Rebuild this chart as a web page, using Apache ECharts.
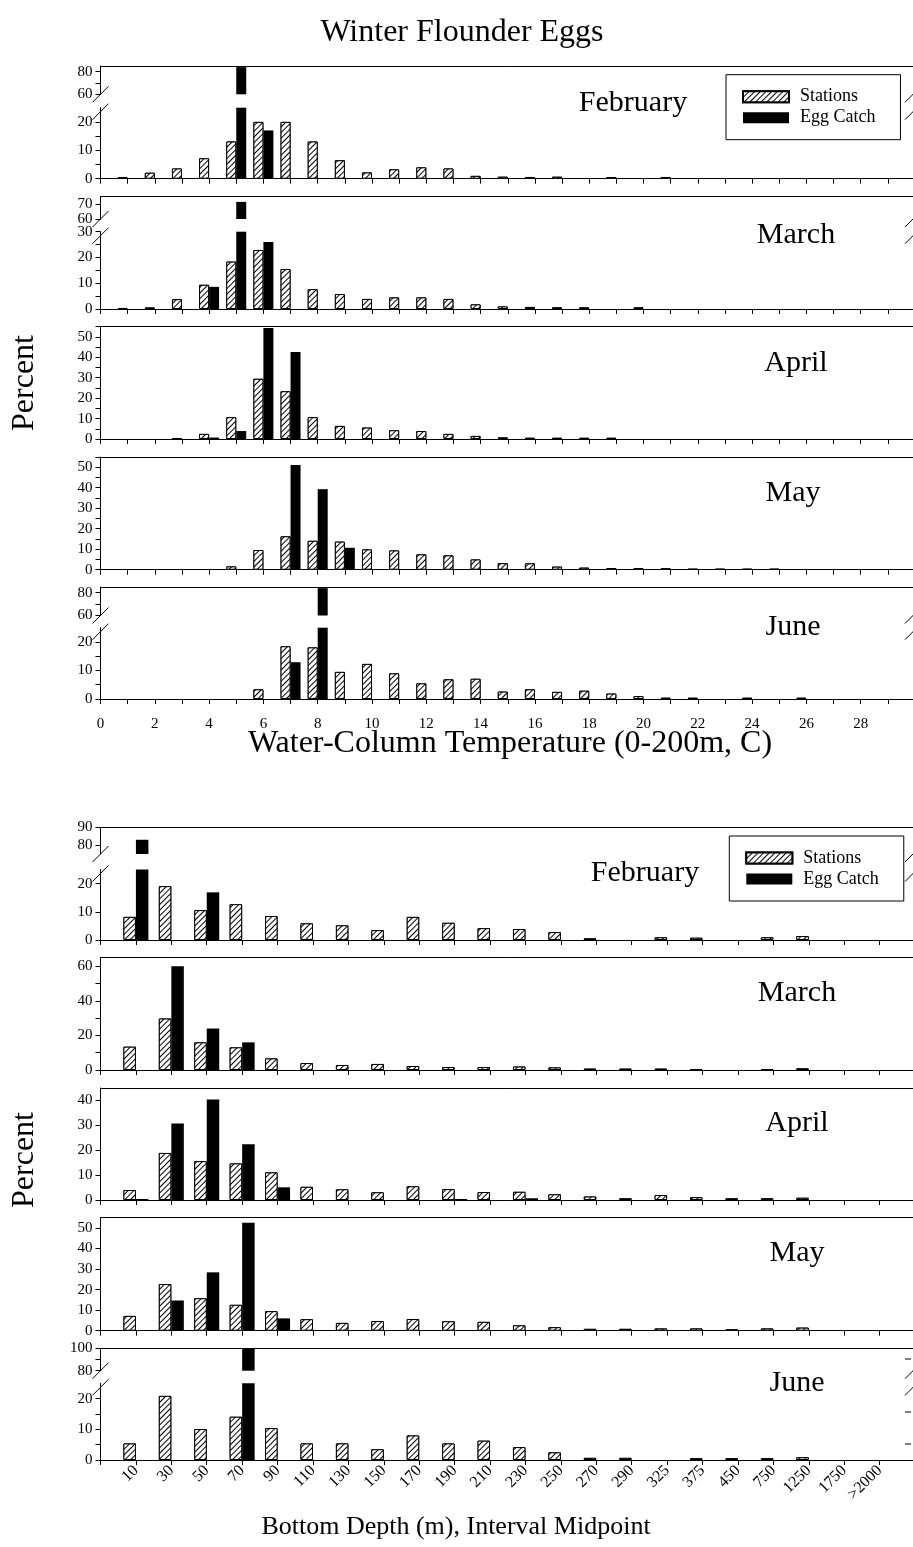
<!DOCTYPE html>
<html><head><meta charset="utf-8">
<script src="https://cdn.jsdelivr.net/npm/echarts@6/dist/echarts.min.js"></script>
<style>html,body{margin:0;padding:0;background:#fff}#c{width:913px;height:1547px}</style>
</head><body><div id="c"></div>
<script>
// ---------------- DATA ----------------
// Temperature bins (bars sit at 1..29 on the temperature axis)
const tempBins = [1,2,3,4,5,6,7,8,9,10,11,12,13,14,15,16,17,18,19,20,21,22,23,24,25,26,27,28,29];
const tempTickLabels = ['0','2','4','6','8','10','12','14','16','18','20','22','24','26','28'];

const tempStationsFeb = [0.5,2.1,3.6,7.2,13.1,20.0,20.0,13.1,6.5,2.2,3.3,4.0,3.6,1.0,0.7,0.6,0.7,0,0.6,0,0.6,0,0,0,0,0,0,0,0];
const tempEggsFeb     = [0,0,0,0,84,17,0,0,0,0,0,0,0,0,0,0,0,0,0,0,0,0,0,0,0,0,0,0,0];
const tempStationsMar = [0.4,0.6,3.8,9.4,18.4,22.9,15.5,7.7,5.8,3.9,4.5,4.5,3.9,1.8,1.0,0.8,0.65,0.65,0,0.65,0,0,0,0,0,0,0,0,0];
const tempEggsMar     = [0,0,0,8.6,71.5,26,0,0,0,0,0,0,0,0,0,0,0,0,0,0,0,0,0,0,0,0,0,0,0];
const tempStationsApr = [0,0,0.5,2.5,10.7,29.5,23.4,10.7,6.4,5.6,4.3,3.9,2.5,1.5,0.8,0.6,0.6,0.6,0.6,0,0,0,0,0,0,0,0,0,0];
const tempEggsApr     = [0,0,0,0.7,3.9,54.4,42.6,0,0,0,0,0,0,0,0,0,0,0,0,0,0,0,0,0,0,0,0,0,0];
const tempStationsMay = [0,0,0,0,1.6,9.6,16.3,14.1,13.7,9.9,9.4,7.5,7.0,5.0,3.2,3.1,1.5,1.0,0.8,0.8,0.7,0.4,0.4,0.4,0.4,0,0,0,0];
const tempEggsMay     = [0,0,0,0,0,0,51.1,39.3,10.7,0,0,0,0,0,0,0,0,0,0,0,0,0,0,0,0,0,0,0,0];
const tempStationsJun = [0,0,0,0,0,3.4,18.5,18.1,9.5,12.3,9.0,5.5,6.9,7.1,2.6,3.4,2.5,2.9,1.9,1.0,0.45,0.45,0,0.45,0,0.45,0,0,0];
const tempEggsJun     = [0,0,0,0,0,0,12.9,84,0,0,0,0,0,0,0,0,0,0,0,0,0,0,0,0,0,0,0,0,0];

// Depth categories (bars sit at 1..22 on the depth axis)
const depthCategories = ['10','30','50','70','90','110','130','150','170','190','210','230','250','270','290','325','375','450','750','1250','1750','>2000'];
const depthBins = [1,2,3,4,5,6,7,8,9,10,11,12,13,14,15,16,17,18,19,20,21,22];

const depthStationsFeb = [8.2,19.1,10.6,12.7,8.5,5.9,5.2,3.5,8.2,6.1,4.2,3.9,2.8,0.6,0,0.95,0.8,0,0.95,1.4,0,0];
const depthEggsFeb     = [83,0,16.9,0,0,0,0,0,0,0,0,0,0,0,0,0,0,0,0,0,0,0];
const depthStationsMar = [13.5,29.8,16.0,13.1,6.7,4.0,2.9,3.5,2.3,1.7,1.7,2.0,1.5,0.8,0.8,0.8,0.5,0,0.3,1.0,0,0];
const depthEggsMar     = [0,60,24.0,16.0,0,0,0,0,0,0,0,0,0,0,0,0,0,0,0,0,0,0];
const depthStationsApr = [4.0,18.9,15.6,14.7,11.1,5.3,4.3,3.1,5.5,4.4,3.2,3.3,2.3,1.4,0.7,2.0,1.1,0.7,0.7,0.9,0,0];
const depthEggsApr     = [0.4,30.7,40.4,22.4,5.1,0,0,0,0,0.4,0,0.7,0,0,0,0,0,0,0,0,0,0];
const depthStationsMay = [7.2,22.7,15.8,12.6,9.5,5.6,3.8,4.7,5.7,4.6,4.3,2.6,1.7,0.9,0.9,1.1,1.1,0.65,1.1,1.5,0,0];
const depthEggsMay     = [0,14.7,28.4,52.6,6.0,0,0,0,0,0,0,0,0,0,0,0,0,0,0,0,0,0];
const depthStationsJun = [5.4,20.9,10.1,14.1,10.4,5.4,5.4,3.5,8.0,5.4,6.3,4.2,2.5,0.7,0.7,0,0.6,0.6,0.6,0.9,0,0];
const depthEggsJun     = [0,0,0,100,0,0,0,0,0,0,0,0,0,0,0,0,0,0,0,0,0,0];

// ---------------- LAYOUT ----------------
const FONT = 'Liberation Serif';
const PLOT_LEFT = 100.5, PLOT_W = 814.5;
const MONTH_SIZE = 30;
function range(a, b, s) { const r = []; for (let v = a; v <= b + 1e-9; v += s) r.push(v); return r; }

const tempSet = {
  bins: tempBins, xMax: 30, barW: 10,
  xTicks: range(0, 29, 1),
  xLabelValues: tempTickLabels.map(Number),
  xFormatter: v => String(v),
  xLabelExtra: { margin: 18 },
  panels: [
    { name: 'February', st: tempStationsFeb, egg: tempEggsFeb, label: [633, 103], parts: [
      { top: 66, bottom: 94.3, min: 60, max: 85, ticks: [60,70,80], labels: [60,80] },
      { top: 107.7, bottom: 178.7, min: 0, max: 25, ticks: [0,5,10,15,20], labels: [0,10,20] } ] },
    { name: 'March', st: tempStationsMar, egg: tempEggsMar, label: [796, 235], parts: [
      { top: 196.7, bottom: 219, min: 60, max: 75, ticks: [60,70], labels: [60,70] },
      { top: 231.7, bottom: 309, min: 0, max: 30, ticks: range(0,30,5), labels: [0,10,20,30] } ] },
    { name: 'April', st: tempStationsApr, egg: tempEggsApr, label: [796, 363], parts: [
      { top: 326.7, bottom: 439, min: 0, max: 55, ticks: range(0,55,5), labels: range(0,50,10) } ] },
    { name: 'May', st: tempStationsMay, egg: tempEggsMay, label: [793, 493], parts: [
      { top: 457, bottom: 569.7, min: 0, max: 55, ticks: range(0,55,5), labels: range(0,50,10) } ] },
    { name: 'June', st: tempStationsJun, egg: tempEggsJun, label: [793, 627], parts: [
      { top: 587, bottom: 615.5, min: 60, max: 85, ticks: [60,70,80], labels: [60,80] },
      { top: 627.7, bottom: 699, min: 0, max: 25, ticks: [0,5,10,15,20], labels: [0,10,20] } ] }
  ],
  legend: { left: 726, top: 74.7 }
};

const depthSet = {
  bins: depthBins, xMax: 23, barW: 12.5,
  xTicks: range(0, 22, 1),
  xLabelValues: depthBins,
  xFormatter: v => depthCategories[Math.round(v) - 1] || '',
  xLabelExtra: { rotate: 45, margin: 8, fontSize: 16 },
  panels: [
    { name: 'February', st: depthStationsFeb, egg: depthEggsFeb, label: [645, 873], parts: [
      { top: 827.3, bottom: 854, min: 75, max: 90, ticks: [80,90], labels: [80,90] },
      { top: 869.5, bottom: 940, min: 0, max: 25, ticks: [0,10,20], labels: [0,10,20] } ] },
    { name: 'March', st: depthStationsMar, egg: depthEggsMar, label: [797, 993], parts: [
      { top: 957.7, bottom: 1070, min: 0, max: 65, ticks: range(0,60,10), labels: [0,20,40,60] } ] },
    { name: 'April', st: depthStationsApr, egg: depthEggsApr, label: [797, 1123], parts: [
      { top: 1088, bottom: 1200, min: 0, max: 45, ticks: range(0,40,10), labels: range(0,40,10) } ] },
    { name: 'May', st: depthStationsMay, egg: depthEggsMay, label: [797, 1253], parts: [
      { top: 1217.7, bottom: 1330.7, min: 0, max: 55, ticks: range(0,50,10), labels: range(0,50,10) } ] },
    { name: 'June', st: depthStationsJun, egg: depthEggsJun, label: [797, 1383], parts: [
      { top: 1348.3, bottom: 1370.7, min: 80, max: 100, ticks: [80,90,100], labels: [80,100] },
      { top: 1383.3, bottom: 1460, min: 0, max: 25, ticks: [0,5,10,15,20], labels: [0,10,20] } ] }
  ],
  legend: { left: 729.3, top: 836 }
};

const stationStyle = {
  color: '#fff', borderColor: '#000', borderWidth: 1,
  decal: { symbol: 'rect', symbolSize: 1, dashArrayX: [1, 0], dashArrayY: [1, 3], rotation: -Math.PI / 4, color: '#000', backgroundColor: '#fff' }
};
const eggStyle = { color: '#000', borderColor: '#000', borderWidth: 0 };

const option = {
  animation: false, backgroundColor: '#fff',
  textStyle: { fontFamily: FONT },
  grid: [], xAxis: [], yAxis: [], series: [], legend: [], graphic: []
};

function lineEl(x1, y1, x2, y2) {
  return { type: 'line', z: 100, silent: true, shape: { x1, y1, x2, y2 }, style: { stroke: '#000', lineWidth: 1 } };
}
function textEl(x, y, text, size, rot) {
  return { type: 'text', z: 100, silent: true, x, y, rotation: rot || 0,
    style: { text, fontFamily: FONT, fontSize: size, fill: '#000', align: 'center', verticalAlign: 'middle' } };
}

function addSet(set) {
  set.panels.forEach((panel, pIdx) => {
    const isLastPanel = pIdx === set.panels.length - 1;
    const n = panel.parts.length;
    panel.parts.forEach((part, pi) => {
      const isTop = pi === 0, isBottom = pi === n - 1;
      const gi = option.grid.length;
      option.grid.push({ left: PLOT_LEFT, width: PLOT_W, top: part.top, height: part.bottom - part.top, containLabel: false, outerBoundsMode: 'none' });
      const xi = option.xAxis.length;
      option.xAxis.push({
        type: 'value', gridIndex: gi, min: 0, max: set.xMax, position: 'bottom', show: isBottom,
        splitLine: { show: false },
        axisLine: { show: true, onZero: false, lineStyle: { color: '#000', width: 1 } },
        axisTick: { show: true, customValues: set.xTicks, length: 5, inside: false, lineStyle: { color: '#000', width: 1 } },
        axisLabel: (isBottom && isLastPanel)
          ? Object.assign({ show: true, customValues: set.xLabelValues, formatter: set.xFormatter, color: '#000', fontFamily: FONT, fontSize: 15 }, set.xLabelExtra)
          : { show: false }
      });
      if (isTop) {
        option.xAxis.push({
          type: 'value', gridIndex: gi, min: 0, max: set.xMax, position: 'top',
          splitLine: { show: false },
          axisLine: { show: true, onZero: false, lineStyle: { color: '#000', width: 1 } },
          axisTick: { show: false }, axisLabel: { show: false }
        });
      }
      const yi = option.yAxis.length;
      option.yAxis.push({
        type: 'value', gridIndex: gi, min: part.min, max: part.max,
        splitLine: { show: false },
        axisLine: { show: true, onZero: false, lineStyle: { color: '#000', width: 1 } },
        axisTick: { show: true, customValues: part.ticks, length: 5, inside: false, lineStyle: { color: '#000', width: 1 } },
        axisLabel: { show: true, customValues: part.labels, color: '#000', fontFamily: FONT, fontSize: 15, margin: 8 }
      });
      const lo = isBottom ? 0 : part.min;
      const mk = vals => set.bins.map((x, i) => vals[i] > lo ? [x, vals[i]] : [x, '-']);
      option.series.push({ type: 'bar', name: 'Stations', xAxisIndex: xi, yAxisIndex: yi, barWidth: set.barW, barGap: '0%', clip: true, silent: true, data: mk(panel.st), itemStyle: stationStyle });
      option.series.push({ type: 'bar', name: 'Egg Catch', xAxisIndex: xi, yAxisIndex: yi, barWidth: set.barW, barGap: '0%', clip: true, silent: true, data: mk(panel.egg), itemStyle: eggStyle });
    });
    if (n === 2) {
      const yT = panel.parts[0].bottom, yB = panel.parts[1].top;
      [PLOT_LEFT, 913].forEach(x => {
        option.graphic.push(lineEl(x - 8, yT + 8, x + 8, yT - 8));
        option.graphic.push(lineEl(x - 8, yB + 12, x + 8, yB - 4));
      });
    }
    option.graphic.push(textEl(panel.label[0], panel.label[1], panel.name, MONTH_SIZE));
  });
  option.legend.push({
    data: ['Stations', 'Egg Catch'], orient: 'vertical', selectedMode: false,
    left: set.legend.left, top: set.legend.top,
    padding: [13, 25, 13, 16], itemGap: 3, itemWidth: 46, itemHeight: 11, icon: 'rect',
    borderColor: '#000', borderWidth: 1, backgroundColor: '#fff',
    textStyle: { fontFamily: FONT, fontSize: 18, color: '#000', padding: [0, 0, 0, 6] }
  });
}
addSet(tempSet);
addSet(depthSet);

// titles and axis names
option.graphic.push(textEl(462, 33, 'Winter Flounder Eggs', 32));
option.graphic.push(textEl(510, 744, 'Water-Column Temperature (0-200m, C)', 32));
option.graphic.push(textEl(456, 1527, 'Bottom Depth (m), Interval Midpoint', 26));
option.graphic.push(textEl(25, 383, 'Percent', 32, Math.PI / 2));
option.graphic.push(textEl(25, 1160, 'Percent', 32, Math.PI / 2));
// small right-side tick marks seen in the lower June panel
[1359, 1412, 1444].forEach(y => option.graphic.push(lineEl(905, y, 911, y)));

const chart = echarts.init(document.getElementById('c'), null, { renderer: 'canvas' });
chart.setOption(option);
</script>
</body></html>
